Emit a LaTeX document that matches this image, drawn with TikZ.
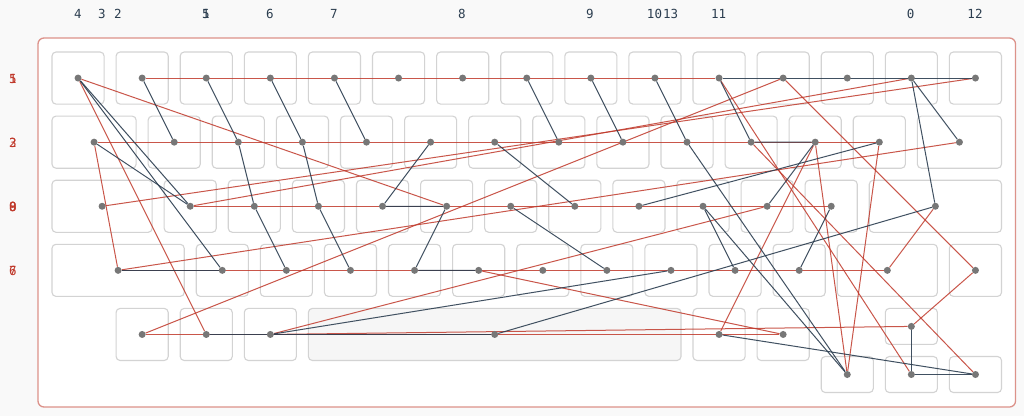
\documentclass[tikz,border=0pt]{standalone}
\usepackage{fontspec}
\setmonofont{DejaVu Sans Mono}
\usepackage{xcolor}
\usepackage{tikz}

% Colores
\definecolor{rojoT}{HTML}{C0392B}   % trazo rojo
\definecolor{azulT}{HTML}{2C3E50}   % trazo oscuro
\definecolor{grisK}{HTML}{D3D3D3}   % borde de tecla
\definecolor{grisP}{HTML}{777777}   % punto
\definecolor{grisE}{HTML}{F6F6F6}   % barra espaciadora
\definecolor{fondo}{HTML}{F9F9F9}

\pgfdeclarelayer{teclas}
\pgfdeclarelayer{trazos}
\pgfsetlayers{teclas,trazos,main}

\tikzset{
  tecla/.style={draw=grisK, fill=white, line width=1.1pt, rounded corners=4pt},
  punto/.style={circle, fill=grisP, inner sep=0pt, minimum size=7pt},
  rojo/.style={draw=rojoT, line width=1pt, opacity=0.85},
  oscuro/.style={draw=azulT, line width=1pt, opacity=0.9},
  etiq/.style={font=\ttfamily\fontsize{12.5}{14}\selectfont, inner sep=0pt}
}

% nombre, columna, ancho, y, alto
\newcommand{\tecla}[6][]{%
  \begin{pgfonlayer}{teclas}
    \draw[tecla,#1] ({52+64.1*(#3)},#5) rectangle ({52+64.1*((#3)+(#4))-12},{#5+#6});
  \end{pgfonlayer}
  \node[punto] (#2) at ({52+64.1*((#3)+(#4)/2)-6},{#5+#6/2}) {};
}

\begin{document}
\begin{tikzpicture}[x=1pt, y=-1pt]

    \useasboundingbox (0,0) rectangle (1024,416);

    % Fondo y marco del teclado
    \begin{pgfonlayer}{teclas}
      \fill[fondo] (0,0) rectangle (1024,416);
      \draw[draw=rojoT!55, fill=white, line width=1.3pt, rounded corners=6pt] (38,38) rectangle (1015.5,407);
    \end{pgfonlayer}

    % Fila 1
    \foreach \i in {0,...,14} {\tecla{a\i}{\i}{1}{52}{52.1}}
    % Fila 2
    \tecla{b0}{0}{1.5}{116.1}{52.1}
    \foreach \i in {1,...,12} {\tecla{b\i}{\i+0.5}{1}{116.1}{52.1}}
    \tecla{b13}{13.5}{1.5}{116.1}{52.1}
    % Fila 3
    \tecla{c0}{0}{1.75}{180.2}{52.1}
    \foreach \i in {1,...,11} {\tecla{c\i}{\i+0.75}{1}{180.2}{52.1}}
    \tecla{c12}{12.75}{2.25}{180.2}{52.1}
    % Fila 4
    \tecla{d0}{0}{2.25}{244.3}{52.1}
    \foreach \i in {1,...,10} {\tecla{d\i}{\i+1.25}{1}{244.3}{52.1}}
    \tecla{d11}{12.25}{1.75}{244.3}{52.1}
    \tecla{d12}{14}{1}{244.3}{52.1}
    % Fila 5
    \tecla{e0}{1}{1}{308.4}{52.1}
    \tecla{e1}{2}{1}{308.4}{52.1}
    \tecla{e2}{3}{1}{308.4}{52.1}
    \tecla[fill=grisE]{e3}{4}{6}{308.4}{52.1}
    \tecla{e4}{10}{1}{308.4}{52.1}
    \tecla{e5}{11}{1}{308.4}{52.1}
    % Flechas
    \tecla{up}{13}{1}{308.4}{36}
    \tecla{lf}{12}{1}{356.5}{36}
    \tecla{dn}{13}{1}{356.5}{36}
    \tecla{rt}{14}{1}{356.5}{36}

    \begin{pgfonlayer}{trazos}
    % Filas (rojo)
    \draw[rojo] (a1) -- (a10);
    \draw[rojo] (b0) -- (b12);
    \draw[rojo] (c1) -- (c11);
    \draw[rojo] (d0) -- (d11);
    \draw[rojo] (e0) -- (e5);

    % Saltos largos (rojo)
    \draw[rojo] (a0) -- (c5);
    \draw[rojo] (a0) -- (e1);
    \draw[rojo] (b0) -- (d0);
    \draw[rojo] (c0) -- (a14);
    \draw[rojo] (c1) -- (a13);
    \draw[rojo] (d0) -- (b13);
    \draw[rojo] (e0) -- (a11);
    \draw[rojo] (e2) -- (c10);
    \draw[rojo] (e2) -- (up);
    \draw[rojo] (d5) -- (e5);
    \draw[rojo] (e4) -- (b11);
    \draw[rojo] (b11) -- (lf);
    \draw[rojo] (b12) -- (lf);
    \draw[rojo] (a10) -- (dn);
    \draw[rojo] (b10) -- (rt);
    \draw[rojo] (a11) -- (d12) -- (up);
    \draw[rojo] (c12) -- (d11);

    % Trazos oscuros
    \draw[oscuro] (a0) -- (c1);
    \draw[oscuro] (a0) -- (d1);
    \draw[oscuro] (b0) -- (c1);
    \draw[oscuro] (d0) -- (d1);
    \draw[oscuro] (a1) -- (b1);
    \draw[oscuro] (a2) -- (b2) -- (c2) -- (d2);
    \draw[oscuro] (a3) -- (b3) -- (c3) -- (d3);
    \draw[oscuro] (a4) -- (b4);
    \draw[oscuro] (b5) -- (c4) -- (c5) -- (d4) -- (d5);
    \draw[oscuro] (b6) -- (c7);
    \draw[oscuro] (c6) -- (d7);
    \draw[oscuro] (a7) -- (b7);
    \draw[oscuro] (a8) -- (b8);
    \draw[oscuro] (a9) -- (b9) -- (lf);
    \draw[oscuro] (a10) -- (b10) -- (b11) -- (c10);
    \draw[oscuro] (c9) -- (d9);
    \draw[oscuro] (c9) -- (lf);
    \draw[oscuro] (c11) -- (d10);
    \draw[oscuro] (b12) -- (c8);
    \draw[oscuro] (a13) -- (b13);
    \draw[oscuro] (a13) -- (c12);
    \draw[oscuro] (c12) -- (e3);
    \draw[oscuro] (d8) -- (e2);
    \draw[oscuro] (e4) -- (rt);
    \draw[oscuro] (up) -- (dn) -- (rt);
    \draw[oscuro] (a10) -- (a14);
    \draw[oscuro] (e1) -- (e3);
    \end{pgfonlayer}

    % Etiquetas superiores
    \node[etiq, text=azulT] (t4) at (78,14) {4};
    \node[etiq, text=azulT] (t3) at (102,14) {3};
    \node[etiq, text=azulT] (t2) at (118,14) {2};
    \node[etiq, text=azulT] (t1) at (206,14) {1};
    \node[etiq, text=azulT] (t5) at (206,14) {5};
    \node[etiq, text=azulT] (t6) at (270,14) {6};
    \node[etiq, text=azulT] (t7) at (334,14) {7};
    \node[etiq, text=azulT] (t8) at (462,14) {8};
    \node[etiq, text=azulT] (t9) at (590,14) {9};
    \node[etiq, text=azulT] (t10) at (654.5,14) {10};
    \node[etiq, text=azulT] (t13) at (670.7,14) {13};
    \node[etiq, text=azulT] (t11) at (718.7,14) {11};
    \node[etiq, text=azulT] (t0) at (910.7,14) {0};
    \node[etiq, text=azulT] (t12) at (975,14) {12};

    % Etiquetas laterales
    \node[etiq, text=rojoT] (l5) at (13,79) {5};
    \node[etiq, text=rojoT] (l1) at (13,79) {1};
    \node[etiq, text=rojoT] (l2) at (13,143) {2};
    \node[etiq, text=rojoT] (l3) at (13,143) {3};
    \node[etiq, text=rojoT] (l0) at (13,207) {0};
    \node[etiq, text=rojoT] (l8) at (13,207) {8};
    \node[etiq, text=rojoT] (l9) at (13,207) {9};
    \node[etiq, text=rojoT] (l6) at (13,271) {6};
    \node[etiq, text=rojoT] (l7) at (13,271) {7};

\end{tikzpicture}
\end{document}
